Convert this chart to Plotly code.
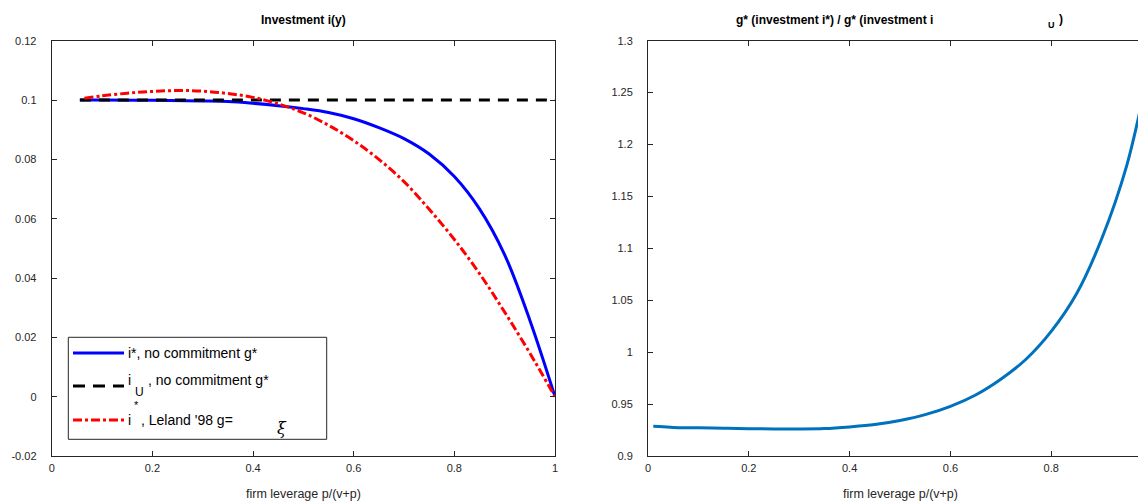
import plotly.graph_objects as go

# ---------------- data ----------------
lev_blue = [0.056, 0.1, 0.2, 0.3, 0.35, 0.4, 0.45, 0.5, 0.55, 0.6, 0.65, 0.7, 0.75, 0.8, 0.85, 0.9, 0.95, 1.0]
i_star = [0.1000, 0.1000, 0.0999, 0.0997, 0.0995, 0.0989, 0.0981, 0.0971, 0.0958, 0.0937, 0.0907, 0.0870,
          0.0818, 0.0742, 0.0633, 0.0478, 0.0258, 0.0]

lev_u = [0.056, 1.0]
i_u = [0.1, 0.1]

lev_red = [0.065, 0.1, 0.15, 0.2, 0.25, 0.3, 0.35, 0.4, 0.45, 0.5, 0.55, 0.6, 0.65, 0.7, 0.75, 0.8, 0.85, 0.9, 0.95, 1.0]
i_leland = [0.1006, 0.1014, 0.1023, 0.1029, 0.1032, 0.1030, 0.1022, 0.1009, 0.0987, 0.0957, 0.0915, 0.0863,
            0.0800, 0.0725, 0.0632, 0.0530, 0.0415, 0.0285, 0.0147, 0.0]

lev_ratio = [0.0105, 0.03, 0.05, 0.1, 0.15, 0.2, 0.25, 0.3, 0.35, 0.4, 0.45, 0.5, 0.55, 0.6, 0.65, 0.7, 0.75,
             0.8, 0.85, 0.9, 0.95, 0.988, 1.0]
g_ratio = [0.9287, 0.9282, 0.9275, 0.9272, 0.9267, 0.9263, 0.9261, 0.9260, 0.9264, 0.9280, 0.9303, 0.9342,
           0.9398, 0.9478, 0.9588, 0.9740, 0.9932, 1.0200, 1.0560, 1.1090, 1.1800, 1.2590, 1.2870]

left_xticks = [0, 0.2, 0.4, 0.6, 0.8, 1]
left_xticklabels = ["0", "0.2", "0.4", "0.6", "0.8", "1"]
left_yticks = [-0.02, 0, 0.02, 0.04, 0.06, 0.08, 0.1, 0.12]
left_yticklabels = ["-0.02", "0", "0.02", "0.04", "0.06", "0.08", "0.1", "0.12"]
right_xticks = [0, 0.2, 0.4, 0.6, 0.8]
right_xticklabels = ["0", "0.2", "0.4", "0.6", "0.8"]
right_yticks = [0.9, 0.95, 1.0, 1.05, 1.1, 1.15, 1.2, 1.25, 1.3]
right_yticklabels = ["0.9", "0.95", "1", "1.05", "1.1", "1.15", "1.2", "1.25", "1.3"]

# ---------------- layout helpers (screen px -> paper, page body has 8px margin) ----------------
OFF = 8
W, H = 1146 - OFF, 503 - OFF
def px(x):
    return (x - OFF) / W
def py(y):
    return 1 - (y - OFF) / H

FONT = "Liberation Sans, Arial, Helvetica, sans-serif"
AX = "#262626"

fig = go.Figure()

fig.add_trace(go.Scatter(x=lev_blue, y=i_star, mode="lines",
                         line=dict(color="#0000FF", width=3, shape="spline", smoothing=1.0),
                         xaxis="x", yaxis="y", showlegend=False))
fig.add_trace(go.Scatter(x=lev_u, y=i_u, mode="lines", line=dict(color="#000000", width=3, dash="11px,8px"),
                         xaxis="x", yaxis="y", showlegend=False))
fig.add_trace(go.Scatter(x=lev_red, y=i_leland, mode="lines",
                         line=dict(color="#FF0000", width=3, dash="9px,3px,3px,3px", shape="spline", smoothing=1.0),
                         xaxis="x", yaxis="y", showlegend=False))
fig.add_trace(go.Scatter(x=lev_ratio, y=g_ratio, mode="lines",
                         line=dict(color="#0072BD", width=3, shape="spline", smoothing=1.0),
                         xaxis="x2", yaxis="y2", showlegend=False))

axis_common = dict(showgrid=False, zeroline=False, showline=True, linecolor=AX, linewidth=1,
                   ticks="inside", ticklen=5, tickcolor=AX, tickwidth=1, automargin=False,
                   tickfont=dict(family=FONT, size=11, color=AX))

right_end = (1146 - 648) / 504.0  # visible part of the right axis (0..1 spans 648..1152 px)

fig.update_layout(
    width=W, height=H,
    margin=dict(l=0, r=0, t=0, b=0),
    paper_bgcolor="white", plot_bgcolor="white",
    xaxis=dict(domain=[px(51.7), px(555)], range=[0, 1], tickvals=left_xticks, ticktext=left_xticklabels,
               mirror="ticks", anchor="y", ticklabelstandoff=2, **axis_common),
    yaxis=dict(domain=[py(456), py(40.7)], range=[-0.02, 0.12], tickvals=left_yticks, ticktext=left_yticklabels,
               mirror="ticks", anchor="x", ticklabelstandoff=12, **axis_common),
    xaxis2=dict(domain=[px(648), 1.0], range=[0, right_end], tickvals=right_xticks, ticktext=right_xticklabels,
                mirror="ticks", anchor="y2", ticklabelstandoff=2, **axis_common),
    yaxis2=dict(domain=[py(456), py(40.7)], range=[0.9, 1.3], tickvals=right_yticks, ticktext=right_yticklabels,
                mirror=False, anchor="x2", ticklabelstandoff=12, **axis_common),
)

ann = []
# axis titles
for cx in (303, 900):
    ann.append(dict(x=px(cx), y=py(494), xref="paper", yref="paper", text="firm leverage p/(v+p)", showarrow=False,
                    font=dict(family=FONT, size=12.5, color=AX), xanchor="center", yanchor="middle"))
# titles
ann.append(dict(x=px(303), y=py(20), xref="paper", yref="paper", text="<b>Investment i(y)</b>", showarrow=False,
                font=dict(family=FONT, size=12, color="#000000"), xanchor="center", yanchor="middle"))
ann.append(dict(x=px(734), y=py(20), xref="paper", yref="paper", text="<b>g* (investment i*) / g* (investment i</b>",
                showarrow=False, font=dict(family=FONT, size=12, color="#000000"), xanchor="left", yanchor="middle"))
ann.append(dict(x=px(1051), y=py(25), xref="paper", yref="paper", text="<b>U</b>",
                showarrow=False, font=dict(family=FONT, size=9, color="#000000"), xanchor="center", yanchor="middle"))
ann.append(dict(x=px(1057), y=py(19), xref="paper", yref="paper", text="<b>)</b>",
                showarrow=False, font=dict(family=FONT, size=12, color="#000000"), xanchor="left", yanchor="middle"))

# legend texts
LF = dict(family=FONT, size=14, color="#000000")
ann.append(dict(x=px(126), y=py(353), xref="paper", yref="paper", text="i*, no commitment g*", showarrow=False,
                font=LF, xanchor="left", yanchor="middle"))
ann.append(dict(x=px(126), y=py(380), xref="paper", yref="paper", text="i", showarrow=False,
                font=LF, xanchor="left", yanchor="middle"))
ann.append(dict(x=px(133), y=py(392), xref="paper", yref="paper", text="U", showarrow=False,
                font=dict(family=FONT, size=12, color="#000000"), xanchor="left", yanchor="middle"))
ann.append(dict(x=px(146), y=py(380), xref="paper", yref="paper", text=", no commitment g*", showarrow=False,
                font=LF, xanchor="left", yanchor="middle"))
ann.append(dict(x=px(132), y=py(405), xref="paper", yref="paper", text="*", showarrow=False,
                font=dict(family=FONT, size=11, color="#000000"), xanchor="left", yanchor="middle"))
ann.append(dict(x=px(126), y=py(420), xref="paper", yref="paper", text="i", showarrow=False,
                font=LF, xanchor="left", yanchor="middle"))
ann.append(dict(x=px(139), y=py(420), xref="paper", yref="paper", text=", Leland '98 g=", showarrow=False,
                font=LF, xanchor="left", yanchor="middle"))
ann.append(dict(x=px(275), y=py(428), xref="paper", yref="paper", text="<i>ξ</i>", showarrow=False,
                font=dict(family="DejaVu Serif, serif", size=16, color="#000000"), xanchor="left", yanchor="middle"))
fig.update_layout(annotations=ann)

shapes = []
shapes.append(dict(type="rect", xref="paper", yref="paper", x0=px(68.3), x1=px(326.7), y0=py(439.3), y1=py(337.3),
                   line=dict(color=AX, width=1), fillcolor="white", layer="above"))
shapes.append(dict(type="line", xref="paper", yref="paper", x0=px(73), x1=px(124), y0=py(353), y1=py(353),
                   line=dict(color="#0000FF", width=3), layer="above"))
shapes.append(dict(type="line", xref="paper", yref="paper", x0=px(73), x1=px(124), y0=py(386), y1=py(386),
                   line=dict(color="#000000", width=3, dash="12px,8px"), layer="above"))
shapes.append(dict(type="line", xref="paper", yref="paper", x0=px(73), x1=px(124), y0=py(420), y1=py(420),
                   line=dict(color="#FF0000", width=3, dash="9px,3px,3px,3px"), layer="above"))
fig.update_layout(shapes=shapes)

fig.write_html("out.html")
